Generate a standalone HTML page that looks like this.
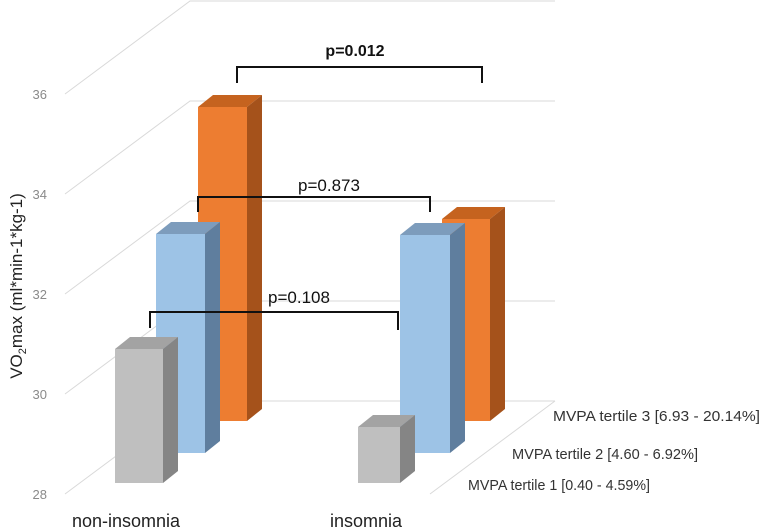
<!DOCTYPE html>
<html><head><meta charset="utf-8"><style>
html,body{margin:0;padding:0;background:#fff;width:761px;height:530px;overflow:hidden}
svg{display:block;font-family:"Liberation Sans",Arial,sans-serif}
</style></head><body>
<svg id="chart" width="761" height="530" viewBox="0 0 761 530">
<g id="grid"></g>
<g id="ticks"></g>
<g id="bars"></g>
<g fill="none" stroke="#111" stroke-width="2">
<path d="M237,83 V67 H482 V83"/>
<path d="M198,212 V197 H430 V212"/>
<path d="M150,328 V312 H398 V330"/>
</g>
<text x="355" y="56" font-size="16" font-weight="bold" text-anchor="middle" fill="#111">p=0.012</text>
<text x="329" y="191" font-size="17" text-anchor="middle" fill="#111">p=0.873</text>
<text x="299" y="303" font-size="17" text-anchor="middle" fill="#111">p=0.108</text>
<text transform="translate(22,286) rotate(-90)" font-size="17" text-anchor="middle" fill="#222">VO<tspan font-size="11" dy="4">2</tspan><tspan dy="-4">max (ml*min-1*kg-1)</tspan></text>
<g id="cats"></g>
<g id="legend"></g>
</svg>
<script>
const categories = ["non-insomnia", "insomnia"];
const seriesNames = ["MVPA tertile 1 [0.40 - 4.59%]", "MVPA tertile 2 [4.60 - 6.92%]", "MVPA tertile 3 [6.93 - 20.14%]"];
const tertile1 = [30.68, 29.12];
const tertile2 = [32.38, 32.36];
const tertile3 = [34.28, 32.04];
const yTicks = [28, 30, 32, 34, 36];

const NS = "http://www.w3.org/2000/svg";
function mk(tag, attrs, parent){const e=document.createElementNS(NS,tag);for(const k in attrs)e.setAttribute(k,attrs[k]);parent.appendChild(e);return e;}
const PX = 50;
function yFront(v){return 494 - (v-28)*PX;}
function yBack(v){return 401 - (v-28)*PX;}
const grid=document.getElementById('grid');
yTicks.forEach(t=>{
  const p=mk('path',{d:`M65,${yFront(t)} L190,${yBack(t)} H555`,stroke:'#d9d9d9','stroke-width':1,fill:'none'},grid);
  
  
});
const fl=mk('path',{d:`M555,401 L430,494`,stroke:'#d9d9d9','stroke-width':1,fill:'none'},grid);


const tk=document.getElementById('ticks');
yTicks.forEach(t=>{
  const e=mk('text',{x:47,y:yFront(t)+5,'font-size':13,'text-anchor':'end',fill:'#8a8a8a'},tk);
  e.textContent=t;
  
  
});
const rows=[
 {vals:tertile1, base:483, x:[115,358], w:[48,42], c:['#bfbfbf','#a3a3a3','#858585']},
 {vals:tertile2, base:453, x:[156,400], w:[49,50], c:['#9dc3e6','#7d9cbc','#5f7e9e']},
 {vals:tertile3, base:421, x:[198,442], w:[49,48], c:['#ed7d31','#c5631f','#a5521b']}
];
const bars=document.getElementById('bars');
const DX=15, DY=-12;
for(let r=2;r>=0;r--){
  const row=rows[r];
  categories.forEach((cat,i)=>{
    const v=row.vals[i]; const x=row.x[i], w=row.w[i], b=row.base;
    const top=b-(v-28)*PX;
    const g=mk('g',{},bars);
    
    
    mk('rect',{x:x,y:top,width:w,height:b-top,fill:row.c[0]},g);
    mk('path',{d:`M${x},${top} L${x+DX},${top+DY} H${x+w+DX} L${x+w},${top} Z`,fill:row.c[1]},g);
    mk('path',{d:`M${x+w},${top} L${x+w+DX},${top+DY} V${b+DY} L${x+w},${b} Z`,fill:row.c[2]},g);
  });
}
const cats=document.getElementById('cats');
[126,366].forEach((cx,i)=>{
  const e=mk('text',{x:cx,y:527,'font-size':18,'text-anchor':'middle',fill:'#222'},cats);
  e.textContent=categories[i];
  
  
});
const lg=document.getElementById('legend');
[[468,490,182],[512,459,186],[553,421,207]].forEach((p,i)=>{
  const e=mk('text',{x:p[0],y:p[1],'font-size':15,fill:'#333',textLength:p[2],lengthAdjust:'spacingAndGlyphs'},lg);
  e.textContent=seriesNames[i];
  
  
});
</script>
</body></html>
